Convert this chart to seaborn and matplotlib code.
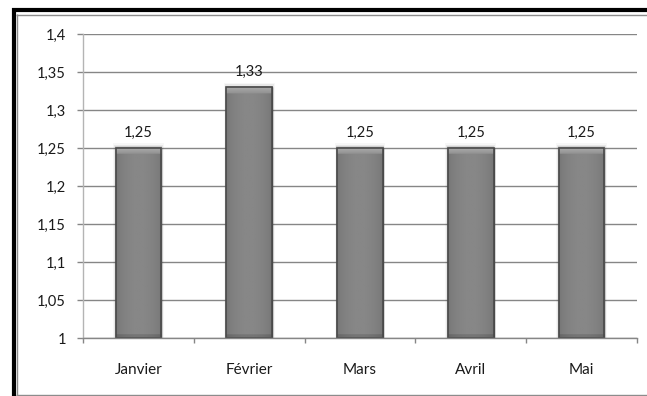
import numpy as np
import pandas as pd
import matplotlib
matplotlib.use("Agg")
import matplotlib.pyplot as plt
from matplotlib.lines import Line2D
from matplotlib.patches import Rectangle
from matplotlib.ticker import FixedLocator, FuncFormatter
import seaborn as sns

# Chart data
mois = ["Janvier", "Février", "Mars", "Avril", "Mai"]
valeurs = [1.25, 1.33, 1.25, 1.25, 1.25]
y_ticks = [1.0, 1.05, 1.1, 1.15, 1.2, 1.25, 1.3, 1.35, 1.4]
y_min, y_max = 1.0, 1.4

sns.set_theme(style="white")
plt.rcParams["font.family"] = ["Lato", "DejaVu Sans"]

W, H = 647, 396
fig = plt.figure(figsize=(W / 100, H / 100), dpi=100)
fig.patch.set_facecolor("white")
ax = fig.add_axes([83 / W, (H - 338) / H, (637 - 83) / W, (338 - 34) / H])

df = pd.DataFrame({"mois": mois, "valeur": valeurs})
sns.barplot(data=df, x="mois", y="valeur", color="#777777", width=0.41,
            edgecolor="#4a4a4a", linewidth=1.0, saturation=1, ax=ax, zorder=3)

ax.set_ylim(y_min, y_max)
ax.set_xlim(-0.5, len(mois) - 0.5)
ax.set_xlabel("")
ax.set_ylabel("")

def fr(v):
    return f"{round(v, 2):g}".replace(".", ",")

ax.yaxis.set_major_locator(FixedLocator(y_ticks))
ax.yaxis.set_major_formatter(FuncFormatter(lambda v, p: fr(v)))
ax.grid(axis="y", color="#868686", linewidth=1.0, zorder=0)
ax.set_axisbelow(True)

ax.tick_params(axis="y", which="major", left=True, length=4.3, width=1.0,
               color="#868686", labelsize=10.5, labelcolor="#1a1a1a", pad=8)
ax.tick_params(axis="x", which="major", bottom=False, labelsize=11,
               labelcolor="#1a1a1a", pad=12)
ax.xaxis.set_minor_locator(FixedLocator(np.arange(-0.5, len(mois), 1.0)))
ax.tick_params(axis="x", which="minor", bottom=True, length=3.6, width=1.0,
               color="#868686")

for side in ["top", "right"]:
    ax.spines[side].set_visible(False)
ax.spines["left"].set_color("#b4b4b4")
ax.spines["bottom"].set_color("#868686")
ax.spines["left"].set_linewidth(1.0)
ax.spines["bottom"].set_linewidth(1.0)
ax.spines["bottom"].set_zorder(6)

# Shaded bars: darker sides, lighter centre and a bevelled top
for patch in ax.patches:
    x0 = patch.get_x()
    w = patch.get_width()
    top = patch.get_y() + patch.get_height()
    y0 = max(patch.get_y(), y_min)
    h = top - y0
    # soft shadow
    for k, a in enumerate([0.10, 0.06, 0.03]):
        d = 0.008 * (k + 1)
        sh = Rectangle((x0 - d, y0), w + 2 * d, h + 0.002 * (k + 1),
                       facecolor="#000000", alpha=a, edgecolor="none", zorder=2)
        ax.add_patch(sh)
    nx, ny = 60, 200
    t = np.linspace(0, 1, nx)
    prof = 0.46 + 0.07 * np.sin(np.pi * t) ** 0.6
    img = np.tile(prof, (ny, 1))
    bar_px = h / (y_max - y_min) * 304
    # top bevel highlight
    bev = max(int(round(ny * 6 / bar_px)), 1)
    img[:bev, :] = np.linspace(0.66, 0.58, bev)[:, None]
    # darker bottom band
    bot = max(int(round(ny * 4 / bar_px)), 1)
    img[-bot:, :] = img[-bot:, :] - 0.07
    im = ax.imshow(img, cmap="gray", vmin=0, vmax=1, aspect="auto",
                   extent=(x0, x0 + w, y0, top), origin="upper",
                   zorder=3.5, interpolation="bilinear")
    edge = Rectangle((x0, y0), w, h, facecolor="none", edgecolor="#4a4a4a",
                     linewidth=1.2, zorder=4)
    ax.add_patch(edge)

ax.set_xlim(-0.5, len(mois) - 0.5)
ax.set_ylim(y_min, y_max)

ax.bar_label(ax.containers[0], labels=[fr(v) for v in valeurs], padding=6,
             fontsize=10.5, color="#1a1a1a", zorder=5)

# Frame around the chart
def fig_line(xs, ys, color, lw):
    fig.add_artist(Line2D([x / W for x in xs], [1 - y / H for y in ys],
                          color=color, linewidth=lw, transform=fig.transFigure,
                          solid_capstyle="butt"))

fig_line([13.5, 13.5], [8, H], "black", 3.0)
fig_line([12, W], [10, 10], "black", 3.0)
fig_line([16.5, 16.5], [14, H], "#8c8c8c", 1.0)
fig_line([16, W], [14.5, 14.5], "#8c8c8c", 1.0)
fig_line([16, W], [395, 395], "#8c8c8c", 1.0)

fig.savefig("out.png", dpi=100, facecolor="white")
